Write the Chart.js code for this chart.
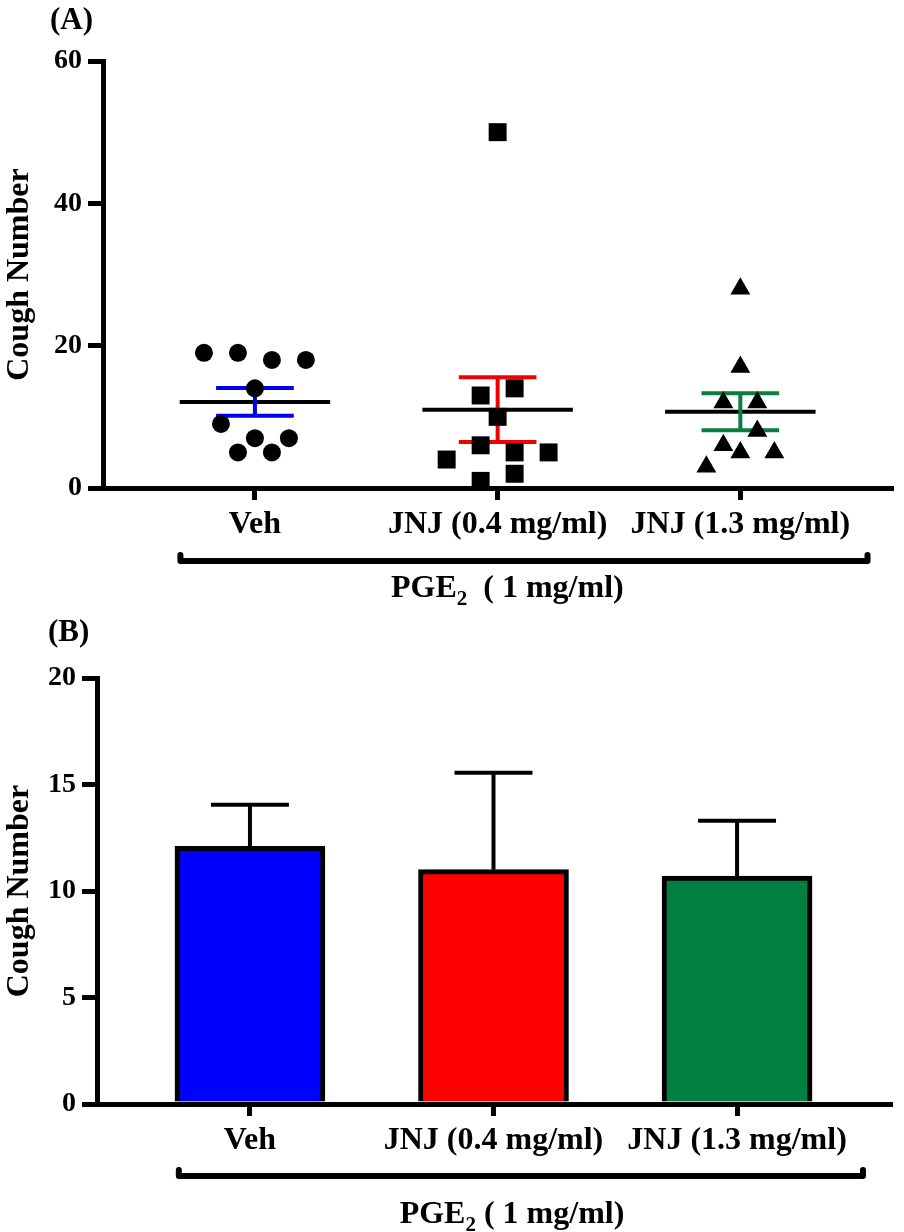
<!DOCTYPE html>
<html>
<head>
<meta charset="utf-8">
<title>Cough Number</title>
<script src="https://cdn.jsdelivr.net/npm/chart.js"></script>
<style>
body { margin: 0; background: #fff; }
.page { position: relative; width: 904px; height: 1232px; background: #fff; font-family: 'Times New Roman', 'Liberation Serif', serif; }
.panel { position: absolute; left: 0; width: 904px; }
#panelA { top: 0; height: 610px; }
#panelB { top: 610px; height: 622px; }
.tag { position: absolute; font-weight: bold; font-size: 31px; line-height: 1; color: #000; }
</style>
</head>
<body>
<div class="page">
  <div class="panel" id="panelA"><canvas id="chartA"></canvas></div>
  <div class="panel" id="panelB"><canvas id="chartB"></canvas></div>
  <div class="tag" style="left:50px; top:3px;">(A)</div>
  <div class="tag" style="left:48px; top:615px;">(B)</div>
</div>

<script>
// data
const groups = ['Veh', 'JNJ (0.4 mg/ml)', 'JNJ (1.3 mg/ml)'];
const vehCoughs = [19, 19, 18, 18, 14, 9, 7, 7, 5, 5];
const jnjLowCoughs = [50, 13, 14, 10, 4, 6, 5, 5, 1, 2];
const jnjHighCoughs = [28, 17, 12, 12, 6, 8, 3, 5, 5];
const groupMeans = [12.1, 11.0, 10.7];
const groupSem = [1.95, 4.55, 2.6];
const yTicksA = [0, 20, 40, 60];
const yTicksB = [0, 5, 10, 15, 20];

const semColors = ['#0000ee', '#f00000', '#0a7d40'];
const barColors = ['#0000ff', '#ff0000', '#008040'];
const fontFamily = "'Times New Roman', 'Liberation Serif', serif";

// simple beeswarm: values close together share a row, rows are centred on the group
function swarm(values, center, rowGap, step) {
  const order = values.map((v, i) => i).sort((a, b) => values[b] - values[a] || a - b);
  const rows = [];
  order.forEach(i => {
    const row = rows[rows.length - 1];
    if (row && values[row[0]] - values[i] <= rowGap) row.push(i);
    else rows.push([i]);
  });
  const pts = [];
  rows.forEach(row => {
    row.sort((a, b) => a - b);
    row.forEach((i, k) => pts.push({ x: center + (k - (row.length - 1) / 2) * step, y: values[i] }));
  });
  return pts;
}

function axisX(min, max, height) {
  return {
    type: 'linear', min: min, max: max, offset: false,
    afterBuildTicks: s => { s.ticks = groups.map((g, i) => ({ value: i + 1 })); },
    afterFit: s => { s.height = height; },
    ticks: {
      callback: v => groups[v - 1], color: '#000', padding: 6, maxRotation: 0, autoSkip: false,
      font: { family: fontFamily, size: 32, weight: 'bold' }
    },
    grid: { display: true, offset: false, drawOnChartArea: false, drawTicks: true, tickLength: 12, lineWidth: 5, color: '#000' },
    border: { display: true, width: 5, color: '#000' }
  };
}

function axisY(tickVals, width) {
  return {
    min: tickVals[0], max: tickVals[tickVals.length - 1],
    afterBuildTicks: s => { s.ticks = tickVals.map(v => ({ value: v })); },
    afterFit: s => { s.width = width; },
    ticks: { color: '#000', padding: 6, font: { family: fontFamily, size: 28, weight: 'bold' } },
    grid: { display: true, drawOnChartArea: false, drawTicks: true, tickLength: 15, lineWidth: 5, color: '#000' },
    border: { display: true, width: 5, color: '#000' },
    title: {
      display: true, text: 'Cough Number', color: '#000', padding: { top: 1, bottom: 0 },
      font: { family: fontFamily, size: 32, weight: 'bold' }
    }
  };
}

function seg(ctx, x, y, a, b, c, d) {
  ctx.beginPath();
  ctx.moveTo(x.getPixelForValue(a), y.getPixelForValue(b));
  ctx.lineTo(x.getPixelForValue(c), y.getPixelForValue(d));
  ctx.stroke();
}

// mean line + SEM whiskers under the dots
const meanSemPlugin = {
  id: 'meanSem',
  beforeDatasetsDraw(chart) {
    const { ctx, scales: { x, y } } = chart;
    ctx.save();
    ctx.lineWidth = 4;
    groupMeans.forEach((m, i) => {
      const c = i + 1, lo = m - groupSem[i], hi = m + groupSem[i];
      ctx.strokeStyle = '#000';
      seg(ctx, x, y, c - 0.31, m, c + 0.31, m);
      ctx.strokeStyle = semColors[i];
      seg(ctx, x, y, c, lo, c, hi);
      seg(ctx, x, y, c - 0.16, lo, c + 0.16, lo);
      seg(ctx, x, y, c - 0.16, hi, c + 0.16, hi);
    });
    ctx.restore();
  }
};

// upward SEM on the bars
const barSemPlugin = {
  id: 'barSem',
  afterDatasetsDraw(chart) {
    const { ctx, scales: { x, y } } = chart;
    ctx.save();
    ctx.lineWidth = 4;
    ctx.strokeStyle = '#000';
    groupMeans.forEach((m, i) => {
      const c = i + 1, hi = m + groupSem[i];
      seg(ctx, x, y, c, m, c, hi);
      seg(ctx, x, y, c - 0.16, hi, c + 0.16, hi);
    });
    ctx.restore();
  }
};

// bracket under the categories with the PGE2 label
const bracketPlugin = {
  id: 'bracket',
  afterDraw(chart, args, o) {
    const { ctx, scales: { x }, chartArea } = chart;
    const x1 = x.getPixelForValue(o.from), x2 = x.getPixelForValue(o.to);
    const y = chartArea.bottom + o.offset;
    ctx.save();
    ctx.strokeStyle = '#000';
    ctx.lineWidth = 6;
    ctx.lineCap = 'round';
    ctx.lineJoin = 'round';
    ctx.beginPath();
    ctx.moveTo(x1, y - 6); ctx.lineTo(x1, y); ctx.lineTo(x2, y); ctx.lineTo(x2, y - 6);
    ctx.stroke();

    const big = 'bold 32px ' + fontFamily, small = 'bold 21px ' + fontFamily;
    ctx.fillStyle = '#000';
    ctx.textBaseline = 'alphabetic';
    ctx.font = big;
    const w1 = ctx.measureText(o.lead).width, w3 = ctx.measureText(o.tail).width;
    ctx.font = small;
    const w2 = ctx.measureText(o.sub).width;
    const left = x.getPixelForValue(o.labelAt) - (w1 + w2 + w3) / 2;
    const by = chartArea.bottom + o.labelOffset;
    ctx.font = big; ctx.fillText(o.lead, left, by);
    ctx.font = small; ctx.fillText(o.sub, left + w1, by + 8);
    ctx.font = big; ctx.fillText(o.tail, left + w1 + w2, by);
    ctx.restore();
  }
};

const dotStyle = { backgroundColor: '#000', borderWidth: 0, clip: false };

new Chart(document.getElementById('chartA'), {
  type: 'scatter',
  data: {
    datasets: [
      Object.assign({ data: swarm(vehCoughs, 1, 2.5, 0.14), pointStyle: 'circle', pointRadius: 9, pointHoverRadius: 9 }, dotStyle),
      Object.assign({ data: swarm(jnjLowCoughs, 2, 2.5, 0.14), pointStyle: 'rect', pointRadius: 12.7, pointHoverRadius: 12.7 }, dotStyle),
      Object.assign({ data: swarm(jnjHighCoughs, 3, 2.5, 0.14), pointStyle: 'triangle', pointRadius: 11.5, pointHoverRadius: 11.5 }, dotStyle)
    ]
  },
  options: {
    responsive: true, maintainAspectRatio: false, animation: false,
    layout: { padding: { top: 61, right: 7, left: 0, bottom: 0 } },
    plugins: {
      legend: { display: false }, tooltip: { enabled: false },
      bracket: { from: 0.693, to: 3.524, offset: 73, labelAt: 2.04, labelOffset: 109, lead: 'PGE', sub: '2', tail: '  ( 1 mg/ml)' }
    },
    scales: { x: axisX(0.374, 3.622, 122), y: axisY(yTicksA, 103) }
  },
  plugins: [meanSemPlugin, bracketPlugin]
});

new Chart(document.getElementById('chartB'), {
  type: 'bar',
  data: {
    datasets: [{
      data: groupMeans.map((m, i) => ({ x: i + 1, y: m })),
      backgroundColor: barColors, borderColor: '#000', borderWidth: 5, borderSkipped: 'start', barThickness: 150
    }]
  },
  options: {
    responsive: true, maintainAspectRatio: false, animation: false,
    layout: { padding: { top: 68, right: 14, left: 0, bottom: 0 } },
    plugins: {
      legend: { display: false }, tooltip: { enabled: false },
      bracket: { from: 0.708, to: 3.517, offset: 72, labelAt: 2.076, labelOffset: 119, lead: 'PGE', sub: '2', tail: ' ( 1 mg/ml)' }
    },
    scales: { x: axisX(0.372, 3.628, 128), y: axisY(yTicksB, 97) }
  },
  plugins: [barSemPlugin, bracketPlugin]
});
</script>
</body>
</html>
